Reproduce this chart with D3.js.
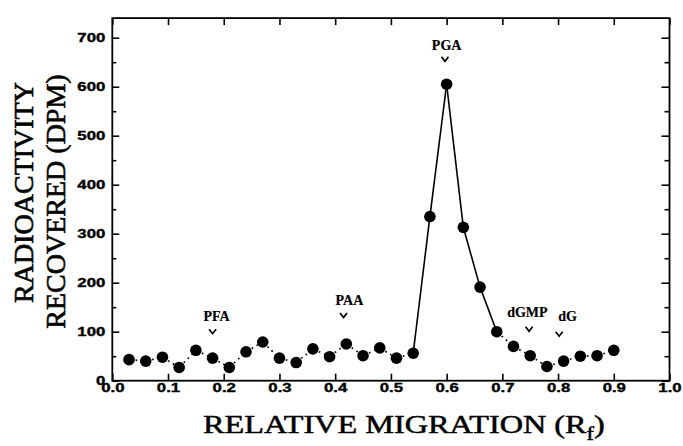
<!DOCTYPE html>
<html><head><meta charset="utf-8">
<script src="https://cdn.jsdelivr.net/npm/d3@7"></script>
<style>html,body{margin:0;padding:0;background:#fff;} svg{display:block}</style>
</head><body>
<svg id="chart" width="683" height="446"></svg>
<script>
// ---- data ----
const rf  = [0.03,0.06,0.09,0.12,0.15,0.18,0.21,0.24,0.27,0.30,0.33,0.36,0.39,0.42,0.45,0.48,0.51,0.54,0.57,0.60,0.63,0.66,0.69,0.72,0.75,0.78,0.81,0.84,0.87,0.90];
const dpm = [43,40,48,27,62,46,27,59,79,46,37,65,49,75,51,67,46,56,335,605,313,191,100,70,51,29,40,50,51,62];
const xTicks = [0.0,0.1,0.2,0.3,0.4,0.5,0.6,0.7,0.8,0.9,1.0];
const yTicks = [0,100,200,300,400,500,600,700];
const yMinorTicks = [50,150,250,350,450,550,650];
const annLabels   = ["PFA","PAA","PGA","dGMP","dG"];
const annCaretRf  = [0.180,0.415,0.597,0.748,0.802];
const annCaretDpm = [100,133,656,105,95];
const annTextRf   = [0.187,0.4255,0.600,0.745,0.817];
const annTextDpm  = [121,155,675,130,122];
const xTitle = "RELATIVE MIGRATION (R";
const xTitleSub = "f";
const yTitle1 = "RADIOACTIVITY";
const yTitle2 = "RECOVERED (DPM)";

// ---- layout ----
const svg = d3.select("#chart");
const L = 112.3, R = 669.5, T = 18.1, B = 380.7;
const x = d3.scaleLinear().domain([0,1]).range([L,R]);
const y = d3.scaleLinear().domain([0,740]).range([B,T]);
const tickFont = "'Liberation Sans', Arial, sans-serif";
const serif = "'Liberation Serif', 'Times New Roman', serif";
const stretch = 1.4;

// axes
const fmtX = d3.format(".1f");
const gB = svg.append("g").attr("transform",`translate(0,${B})`)
  .call(d3.axisBottom(x).tickValues(xTicks).tickSize(-7).tickPadding(3).tickFormat(fmtX));
const gT = svg.append("g").attr("transform",`translate(0,${T})`)
  .call(d3.axisTop(x).tickValues(xTicks).tickSize(-7).tickFormat(""));
const gL = svg.append("g").attr("transform",`translate(${L},0)`)
  .call(d3.axisLeft(y).tickValues(yTicks).tickSize(-7).tickFormat(d3.format("d")));
const gLm = svg.append("g").attr("transform",`translate(${L},0)`)
  .call(d3.axisLeft(y).tickValues(yMinorTicks).tickSize(-4).tickFormat(""));
const gR = svg.append("g").attr("transform",`translate(${R},0)`)
  .call(d3.axisRight(y).tickValues(yTicks).tickSize(-8).tickFormat(""));
const gRm = svg.append("g").attr("transform",`translate(${R},0)`)
  .call(d3.axisRight(y).tickValues(yMinorTicks).tickSize(-5).tickFormat(""));
[gB,gT,gL,gLm,gR,gRm].forEach(g=>{
  g.select(".domain").remove();
  g.selectAll(".tick line").attr("stroke","#000").attr("stroke-width",1.6);
});
gB.selectAll(".tick text").attr("font-family",tickFont).attr("font-weight","bold")
  .attr("font-size",12).attr("fill","#000").attr("stroke","#000").attr("stroke-width",0.35)
  .attr("transform",`scale(${stretch},1)`);
gL.selectAll(".tick text").attr("font-family",tickFont).attr("font-weight","bold")
  .attr("font-size",12).attr("fill","#000").attr("stroke","#000").attr("stroke-width",0.35)
  .attr("x",-7/stretch).attr("dy","0.35em")
  .attr("transform",`scale(${stretch},1)`);

// frame
svg.append("rect").attr("x",L).attr("y",T).attr("width",R-L).attr("height",B-T)
  .attr("fill","none").attr("stroke","#000").attr("stroke-width",1.8);

// connecting segments
const pts = rf.map((r,i)=>[x(r), y(dpm[i])]);
const segs = d3.pairs(pts);
const segLen = d=>Math.hypot(d[1][0]-d[0][0],d[1][1]-d[0][1]);
svg.append("g").selectAll("line").data(segs).join("line")
  .attr("x1",d=>d[0][0]).attr("y1",d=>d[0][1])
  .attr("x2",d=>d[1][0]).attr("y2",d=>d[1][1])
  .attr("stroke","#000")
  .attr("stroke-width",d=>segLen(d)>30?1.6:1.7)
  .attr("stroke-dasharray",d=>segLen(d)>30?null:"1.6,4")
  .attr("stroke-dashoffset",-1);

// markers
svg.append("g").selectAll("circle").data(pts).join("circle")
  .attr("cx",d=>d[0]).attr("cy",d=>d[1]).attr("r",5.8).attr("fill","#000");

// annotations
const ann = svg.append("g");
annLabels.forEach((lab,i)=>{
  const cx = x(annCaretRf[i]), cy = y(annCaretDpm[i]);
  ann.append("path").attr("d",`M${cx-3.5},${cy-2.5}L${cx},${cy+2}L${cx+3.5},${cy-2.5}`)
    .attr("fill","none").attr("stroke","#000").attr("stroke-width",1.7);
  ann.append("text").attr("x",x(annTextRf[i])).attr("y",y(annTextDpm[i]))
    .attr("text-anchor","middle").attr("font-family",serif).attr("font-weight","bold")
    .attr("font-size",14).attr("fill","#000").attr("stroke","#000").attr("stroke-width",0.2)
    .text(lab);
});

// x title
const xt = svg.append("g");
const xtText = xt.append("text").attr("font-family",serif).attr("font-size",26).attr("fill","#000")
  .attr("stroke","#000").attr("stroke-width",0.5).attr("text-anchor","start");
xtText.append("tspan").text(xTitle);
xtText.append("tspan").attr("font-size",18).attr("dy",7).text(xTitleSub);
xtText.append("tspan").attr("dy",-7).text(")");
const bw = xtText.node().getBBox().width;
const k = 402/bw;
xt.attr("transform",`translate(203,433) scale(${k},1)`);

// y titles
svg.append("text").attr("transform",`translate(33,192.5) rotate(-90)`)
  .attr("text-anchor","middle").attr("font-family",serif).attr("font-size",28).attr("fill","#000")
  .attr("stroke","#000").attr("stroke-width",0.6)
  .text(yTitle1);
svg.append("text").attr("transform",`translate(65,201.5) rotate(-90)`)
  .attr("text-anchor","middle").attr("font-family",serif).attr("font-size",28).attr("fill","#000")
  .attr("stroke","#000").attr("stroke-width",0.6)
  .text(yTitle2);
</script>
</body></html>
